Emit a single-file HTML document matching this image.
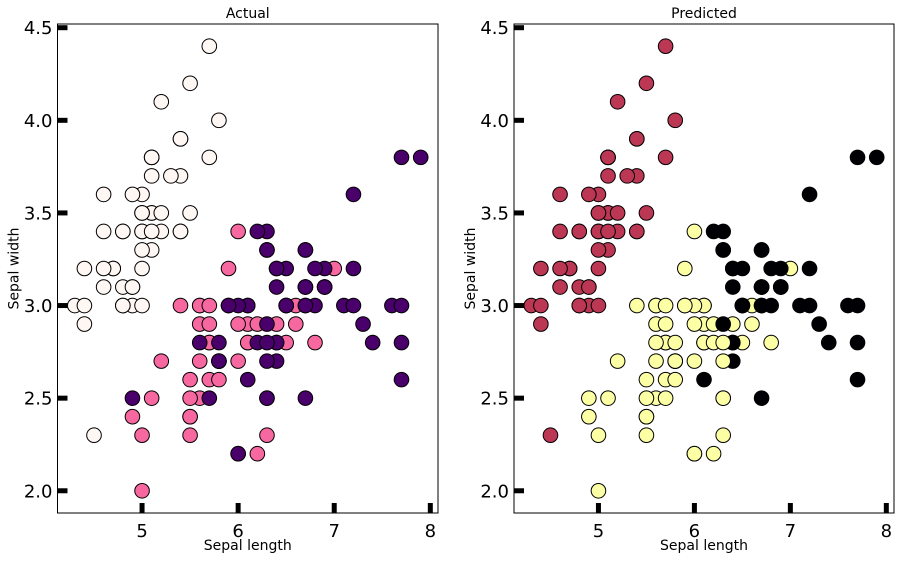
<!DOCTYPE html>
<html><head><meta charset="utf-8"><style>
body{margin:0;background:#fff;width:901px;height:560px;overflow:hidden}
svg text{font-family:"DejaVu Sans","Liberation Sans",sans-serif}
</style></head><body>
<svg id="chart" width="901" height="560" xmlns="http://www.w3.org/2000/svg"></svg>
<script>
const sepalLength=[5.1,4.9,4.7,4.6,5.0,5.4,4.6,5.0,4.4,4.9,5.4,4.8,4.8,4.3,5.8,5.7,5.4,5.1,5.7,5.1,5.4,5.1,4.6,5.1,4.8,5.0,5.0,5.2,5.2,4.7,4.8,5.4,5.2,5.5,4.9,5.0,5.5,4.9,4.4,5.1,5.0,4.5,4.4,5.0,5.1,4.8,5.1,4.6,5.3,5.0,
7.0,6.4,6.9,5.5,6.5,5.7,6.3,4.9,6.6,5.2,5.0,5.9,6.0,6.1,5.6,6.7,5.6,5.8,6.2,5.6,5.9,6.1,6.3,6.1,6.4,6.6,6.8,6.7,6.0,5.7,5.5,5.5,5.8,6.0,5.4,6.0,6.7,6.3,5.6,5.5,5.5,6.1,5.8,5.0,5.6,5.7,5.7,6.2,5.1,5.7,
6.3,5.8,7.1,6.3,6.5,7.6,4.9,7.3,6.7,7.2,6.5,6.4,6.8,5.7,5.8,6.4,6.5,7.7,7.7,6.0,6.9,5.6,7.7,6.3,6.7,7.2,6.2,6.1,6.4,7.2,7.4,7.9,6.4,6.3,6.1,7.7,6.3,6.4,6.0,6.9,6.7,6.9,5.8,6.8,6.7,6.7,6.3,6.5,6.2,5.9];
const sepalWidth=[3.5,3.0,3.2,3.1,3.6,3.9,3.4,3.4,2.9,3.1,3.7,3.4,3.0,3.0,4.0,4.4,3.9,3.5,3.8,3.8,3.4,3.7,3.6,3.3,3.4,3.0,3.4,3.5,3.4,3.2,3.1,3.4,4.1,4.2,3.1,3.2,3.5,3.6,3.0,3.4,3.5,2.3,3.2,3.5,3.8,3.0,3.8,3.2,3.7,3.3,
3.2,3.2,3.1,2.3,2.8,2.8,3.3,2.4,2.9,2.7,2.0,3.0,2.2,2.9,2.9,3.1,3.0,2.7,2.2,2.5,3.2,2.8,2.5,2.8,2.9,3.0,2.8,3.0,2.9,2.6,2.4,2.4,2.7,2.7,3.0,3.4,3.1,2.3,3.0,2.5,2.6,3.0,2.6,2.3,2.7,3.0,2.9,2.9,2.5,2.8,
3.3,2.7,3.0,2.9,3.0,3.0,2.5,2.9,2.5,3.6,3.2,2.7,3.0,2.5,2.8,3.2,3.0,3.8,2.6,2.2,3.2,2.8,2.8,2.7,3.3,3.2,2.8,3.0,2.8,3.0,2.8,3.8,2.8,2.8,2.6,3.0,3.4,3.1,3.0,3.1,3.1,3.1,2.7,3.2,3.3,3.0,2.5,3.0,3.4,3.0];
const actualLabels=[].concat(Array(50).fill(0),Array(50).fill(1),Array(50).fill(2));
const predictedLabels=[].concat(Array(50).fill(1),
[2,2,0,2,2,2,2,2,2,2,2,2,2,2,2,2,2,2,2,2,2,2,2,2,2,2,2,0,2,2,2,2,2,2,2,2,2,2,2,2,2,2,2,2,2,2,2,2,2,2],
[0,2,0,0,0,0,2,0,0,0,0,0,0,2,2,0,0,0,0,2,0,2,0,2,0,0,2,2,0,0,0,0,0,2,0,0,0,0,2,0,0,0,2,0,0,0,2,0,0,2]);
const xTicks=[5,6,7,8];
const yTicks=[2.0,2.5,3.0,3.5,4.0,4.5];
const actualColors=['#fff7f3','#f768a1','#49006a'];
const predColors=['#000004','#bc3754','#fcffa4'];
const NS='http://www.w3.org/2000/svg';
const svgEl=document.getElementById('chart');
function mk(tag,attrs,parent){const e=document.createElementNS(NS,tag);for(const k in attrs)e.setAttribute(k,attrs[k]);(parent||svgEl).appendChild(e);return e;}
const xMin=4.12,xMax=8.08,yMin=1.88,yMax=4.52,axTop=24,axBottom=513;
function panel(left,right,title,labels,colors,name){
  const g=mk('g',{});
  
  
  const sx=v=>left+(v-xMin)/(xMax-xMin)*(right-left);
  const sy=v=>axBottom-(v-yMin)/(yMax-yMin)*(axBottom-axTop);
  for(let i=0;i<sepalLength.length;i++){
    const c=mk('circle',{cx:sx(sepalLength[i]),cy:sy(sepalWidth[i]),r:7.3,fill:colors[labels[i]],stroke:'#000','stroke-width':1},g);
    
    
  }
  const fr=mk('rect',{x:left,y:axTop,width:right-left,height:axBottom-axTop,fill:'none',stroke:'#000','stroke-width':1},g);
  
  
  xTicks.forEach(t=>{
    const x=sx(t);
    const tk=mk('line',{x1:x,x2:x,y1:axBottom,y2:axBottom-10,stroke:'#000','stroke-width':5},g);
    
    
    const tl=mk('text',{x:x,y:axBottom+24,'text-anchor':'middle','font-size':18},g);
    tl.textContent=String(t);
    
    
  });
  yTicks.forEach(t=>{
    const y=sy(t);
    const tk=mk('line',{x1:left,x2:left+10,y1:y,y2:y,stroke:'#000','stroke-width':5},g);
    
    
    const tl=mk('text',{x:left-5,y:y+6.5,'text-anchor':'end','font-size':18},g);
    tl.textContent=t.toFixed(1);
    
    
  });
  const xl=mk('text',{x:(left+right)/2,y:550,'text-anchor':'middle','font-size':14},g);
  xl.textContent='Sepal length';
  
  
  const yl=mk('text',{x:0,y:0,'text-anchor':'middle','font-size':14,transform:`translate(${left-39},${(axTop+axBottom)/2}) rotate(-90)`},g);
  yl.textContent='Sepal width';
  
  
  const tt=mk('text',{x:(left+right)/2,y:18,'text-anchor':'middle','font-size':14},g);
  tt.textContent=title;
  
  
}
panel(57.5,438,'Actual',actualLabels,actualColors,'actual-panel');
panel(514,894,'Predicted',predictedLabels,predColors,'predicted-panel');
</script>
</body></html>
